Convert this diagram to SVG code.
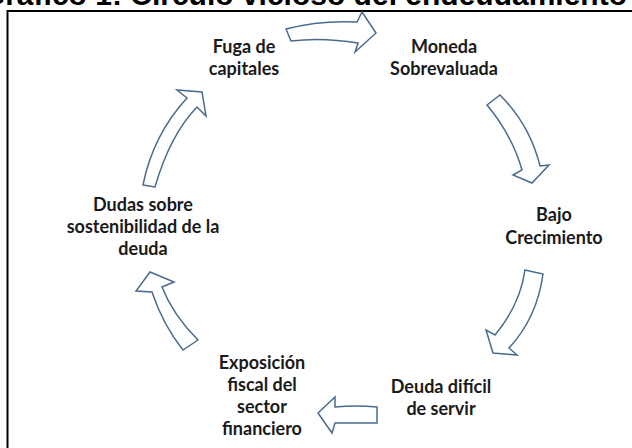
<svg xmlns="http://www.w3.org/2000/svg" width="632" height="448" viewBox="0 0 632 448">
<style>
.lbl{font-family:Lato,"Open Sans","Liberation Sans",sans-serif;font-weight:bold;font-size:18px;fill:#1a1a1a;text-anchor:middle}
.title{font-family:"Liberation Sans",Arial,sans-serif;font-weight:bold;font-size:30px;fill:#000;text-anchor:end}
.arr{fill:#fff;stroke:#4a6b8f;stroke-width:1.5;stroke-linejoin:miter}
</style>
<rect width="632" height="448" fill="#fff"/>
<text class="title" x="627" y="4.5">Gráfico 1: Círculo vicioso del endeudamiento</text>
<path d="M7.5,452 V11 H634" fill="none" stroke="#000" stroke-width="2"/>
<g id="connectors">
<path class="arr" d="M286,29 Q320,20 357,22 L362,12 L376,33 L355,52 L358,43 Q322,37 291,41 Z"/>
<path class="arr" d="M487,105 L500,95 Q530,125 540,166 L549,165 L532,183 L513,175 L522,170 Q512,135 487,105 Z"/>
<path class="arr" d="M525,270 L543,274 Q537,318 509,348 L517,355 L493,353 L486,330 L495,335 Q520,305 525,270 Z"/>
<path class="arr" d="M377,407 L377,423 L335,423 L332,433 L318,413 L335,397 L335,407 Q356,405 377,407 Z"/>
<path class="arr" d="M183,350 L198,340 Q173,315 162,287 L174,282 L150,272 L136,291 L152,292 Q163,325 183,350 Z"/>
<path class="arr" d="M143,185 L155,187 Q170,135 197,107 L206,116 L202,92 L177,90 L187,98 Q153,135 143,185 Z"/>
</g>
<g id="n1"><text class="lbl" x="244" y="53">Fuga de</text><text class="lbl" x="244" y="75">capitales</text></g>
<g id="n2"><text class="lbl" x="444" y="53">Moneda</text><text class="lbl" x="444" y="75">Sobrevaluada</text></g>
<g id="n3"><text class="lbl" x="554" y="221">Bajo</text><text class="lbl" x="554" y="244">Crecimiento</text></g>
<g id="n4"><text class="lbl" x="441" y="393">Deuda difícil</text><text class="lbl" x="441" y="415">de servir</text></g>
<g id="n5"><text class="lbl" x="262" y="369">Exposición</text><text class="lbl" x="262" y="391">fiscal del</text><text class="lbl" x="262" y="413">sector</text><text class="lbl" x="262" y="435">financiero</text></g>
<g id="n6"><text class="lbl" x="143" y="211">Dudas sobre</text><text class="lbl" x="143" y="233">sostenibilidad de la</text><text class="lbl" x="143" y="255">deuda</text></g>
</svg>
